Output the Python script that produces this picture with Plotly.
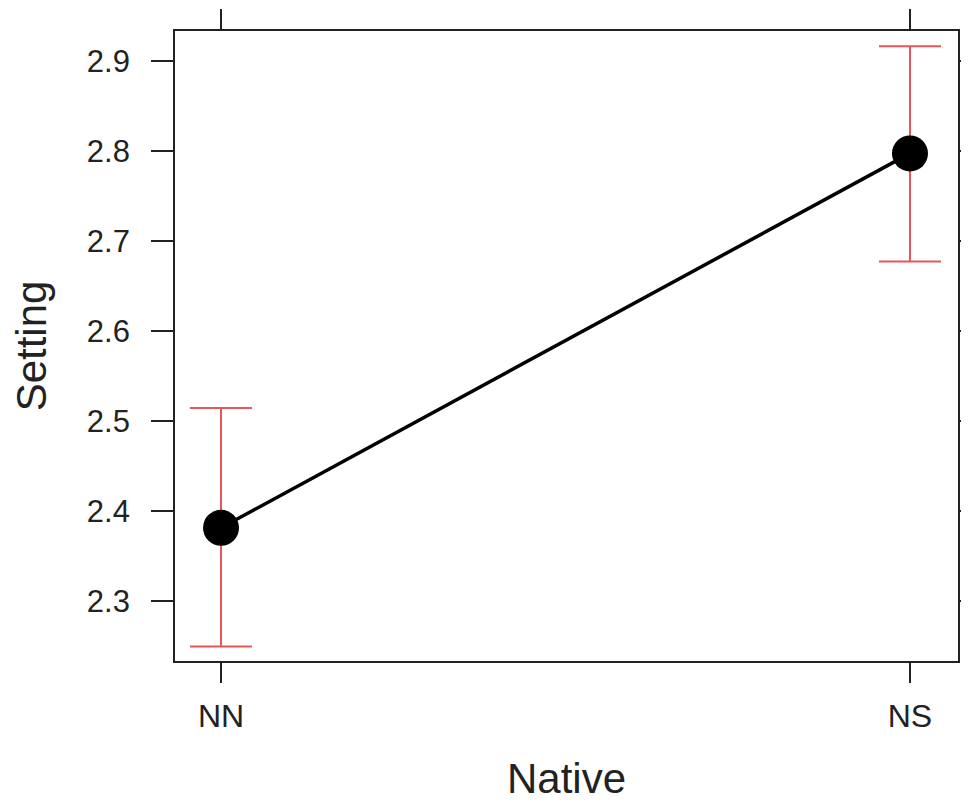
import plotly.graph_objects as go

categories = ["NN", "NS"]
fit = [2.381, 2.797]
upper = [2.514, 2.916]
lower = [2.249, 2.677]
y_ticks = [2.3, 2.4, 2.5, 2.6, 2.7, 2.8, 2.9]

err_plus = [u - f for u, f in zip(upper, fit)]
err_minus = [f - l for f, l in zip(fit, lower)]

fig = go.Figure()
fig.add_trace(go.Scatter(
    x=categories, y=fit, mode="lines+markers",
    line=dict(color="black", width=3.5),
    marker=dict(color="black", size=36),
    error_y=dict(type="data", symmetric=False, array=err_plus, arrayminus=err_minus,
                 color="rgb(232,85,90)", thickness=2, width=31),
    showlegend=False,
))

font = "Liberation Sans, Arial, sans-serif"
fig.update_layout(
    width=961, height=794,
    margin=dict(l=167, r=11, t=23, b=141, autoexpand=False),
    paper_bgcolor="white", plot_bgcolor="white",
    font=dict(family=font, color="#222", size=31),
)
fig.update_xaxes(
    type="category", range=[-0.0668, 1.0697], automargin=False,
    showline=True, linecolor="#222", linewidth=1.8, mirror="ticks",
    ticks="outside", ticklen=20, tickwidth=1.6, tickcolor="#222",
    showgrid=False, zeroline=False,
    tickfont=dict(size=32), ticklabelstandoff=6,
    title=dict(text="Native", font=dict(size=42), standoff=30),
)
fig.update_yaxes(
    range=[2.233, 2.933], tickvals=y_ticks, ticktext=[str(v) for v in y_ticks],
    automargin=False,
    showline=True, linecolor="#222", linewidth=1.8, mirror="ticks",
    ticks="outside", ticklen=22, tickwidth=1.6, tickcolor="#222",
    showgrid=False, zeroline=False,
    tickfont=dict(size=31), ticklabelstandoff=15,
    title=dict(text="Setting", font=dict(size=42), standoff=30),
)
fig.write_html("out.html")
